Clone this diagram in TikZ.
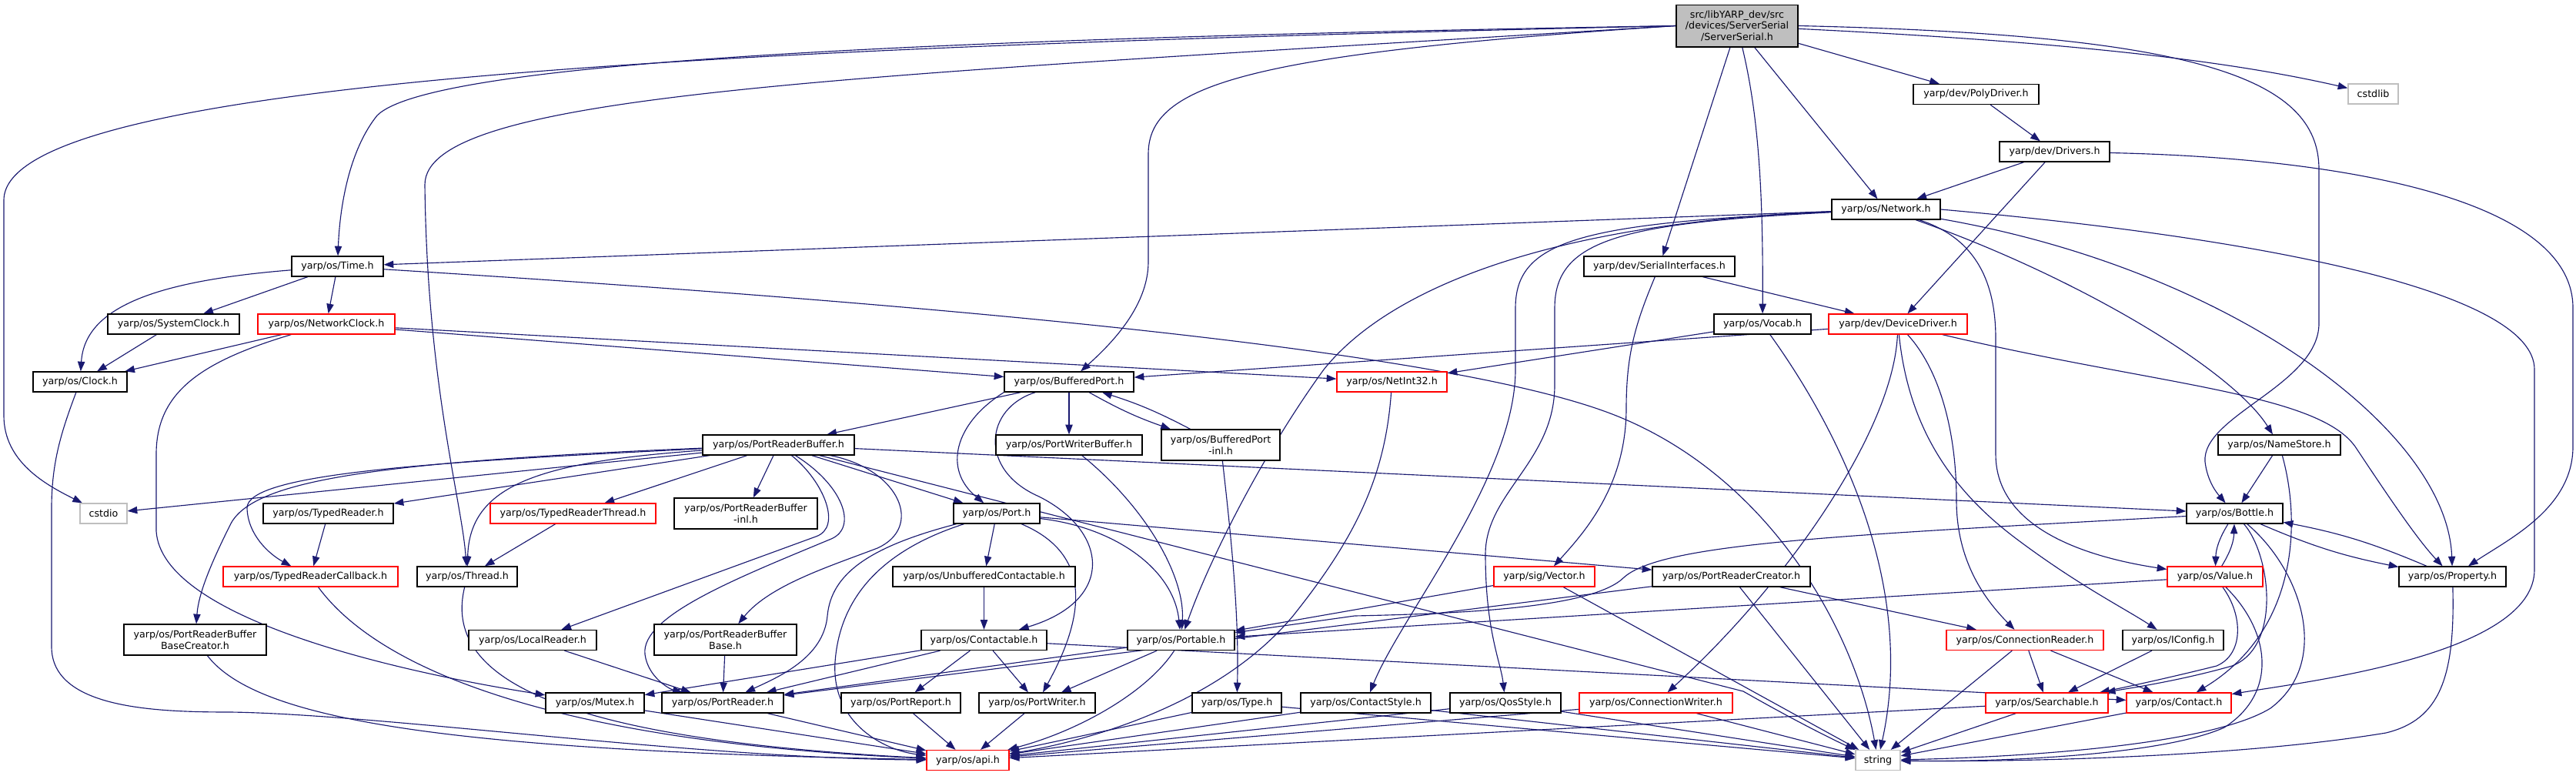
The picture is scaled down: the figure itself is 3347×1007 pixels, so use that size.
\documentclass[tikz,border=0pt]{standalone}
\usepackage{fontspec}
\setmainfont{DejaVu Sans}
\usetikzlibrary{arrows.meta}
\pgfdeclarelayer{background}
\pgfsetlayers{background,main}
\definecolor{edgeblue}{HTML}{191970}
\definecolor{graybox}{HTML}{BFBFBF}
\definecolor{redbox}{HTML}{FF0000}
\tikzset{
  nb/.style={rectangle, draw=black, line width=1pt, fill=white, minimum width=#1*0.75pt,
    minimum height=19.5pt, inner sep=0pt, align=center, font=\fontsize{9.5}{11}\selectfont},
  nr/.style={nb=#1, draw=redbox},
  ng/.style={nb=#1, draw=graybox},
  ed/.style={draw=edgeblue, line width=0.85pt, -{Triangle[length=9.5pt,width=7pt]}},
}
\begin{document}
\begin{tikzpicture}[x=0.75pt, y=-0.75pt]
\useasboundingbox (0,0) rectangle (3347,1007);
% nodes
\node[nb=158, minimum height=41pt, fill=graybox] (ss) at (2257,33.5) {src/libYARP\_dev/src\\/devices/ServerSerial\\/ServerSerial.h};
\node[ng=65] (cstdlib) at (3083.5,122) {cstdlib};
\node[nb=163] (poly) at (2567.5,122.5) {yarp/dev/PolyDriver.h};
\node[nb=143] (drivers) at (2669.5,197) {yarp/dev/Drivers.h};
\node[nb=141] (network) at (2450.5,272) {yarp/os/Network.h};
\node[nb=119] (time) at (438.5,346) {yarp/os/Time.h};
\node[nb=196] (serial) at (2156,346) {yarp/dev/SerialInterfaces.h};
\node[nb=171] (sysclock) at (225.5,421) {yarp/os/SystemClock.h};
\node[nr=178] (netclock) at (424,421) {yarp/os/NetworkClock.h};
\node[nb=126] (vocab) at (2290,421) {yarp/os/Vocab.h};
\node[nr=180] (devdrv) at (2466,421) {yarp/dev/DeviceDriver.h};
\node[nb=122] (clock) at (104,496) {yarp/os/Clock.h};
\node[nb=168] (bport) at (1389,496) {yarp/os/BufferedPort.h};
\node[nr=143] (netint) at (1808.5,496) {yarp/os/NetInt32.h};
\node[nb=197] (prb) at (1011.5,578) {yarp/os/PortReaderBuffer.h};
\node[nb=190] (pwb) at (1389,578) {yarp/os/PortWriterBuffer.h};
\node[nb=154, minimum height=30pt] (bpinl) at (1586,578) {yarp/os/BufferedPort\\-inl.h};
\node[nb=159] (namestore) at (2961.5,578) {yarp/os/NameStore.h};
\node[ng=61] (cstdio) at (134.5,667) {cstdio};
\node[nb=169] (treader) at (426.5,667) {yarp/os/TypedReader.h};
\node[nr=215] (trthread) at (744.5,667) {yarp/os/TypedReaderThread.h};
\node[nb=186, minimum height=30pt] (prbinl) at (969,667) {yarp/os/PortReaderBuffer\\-inl.h};
\node[nb=112] (port) at (1295,667) {yarp/os/Port.h};
\node[nb=125] (bottle) at (2903.5,667) {yarp/os/Bottle.h};
\node[nr=227] (trcb) at (403.5,749) {yarp/os/TypedReaderCallback.h};
\node[nb=130] (thread) at (607,749) {yarp/os/Thread.h};
\node[nb=237] (unbuf) at (1278.5,749) {yarp/os/UnbufferedContactable.h};
\node[nr=131] (vector) at (2006.5,749) {yarp/sig/Vector.h};
\node[nb=205] (prc) at (2249.5,749) {yarp/os/PortReaderCreator.h};
\node[nr=124] (value) at (2878,749) {yarp/os/Value.h};
\node[nb=139] (property) at (3186.5,749) {yarp/os/Property.h};
\node[nb=185, minimum height=30pt] (prbbc) at (253.5,831) {yarp/os/PortReaderBuffer\\BaseCreator.h};
\node[nb=166] (localreader) at (692,831.5) {yarp/os/LocalReader.h};
\node[nb=185, minimum height=30pt] (prbbase) at (942.5,831) {yarp/os/PortReaderBuffer\\Base.h};
\node[nb=163] (contactable) at (1278.5,831.5) {yarp/os/Contactable.h};
\node[nb=139] (portable) at (1534.5,831.5) {yarp/os/Portable.h};
\node[nr=204] (connreader) at (2631,831.5) {yarp/os/ConnectionReader.h};
\node[nb=131] (iconfig) at (2823.5,831.5) {yarp/os/IConfig.h};
\node[nb=128] (mutex) at (773,913) {yarp/os/Mutex.h};
\node[nb=158] (portreader) at (939,913) {yarp/os/PortReader.h};
\node[nb=155] (portreport) at (1170.5,913) {yarp/os/PortReport.h};
\node[nb=151] (portwriter) at (1347.5,913) {yarp/os/PortWriter.h};
\node[nb=116] (type) at (1607,913) {yarp/os/Type.h};
\node[nb=169] (contactstyle) at (1774.5,913) {yarp/os/ContactStyle.h};
\node[nb=144] (qosstyle) at (1956,913) {yarp/os/QosStyle.h};
\node[nr=199] (connwriter) at (2151.5,913) {yarp/os/ConnectionWriter.h};
\node[nr=159] (searchable) at (2659.5,913) {yarp/os/Searchable.h};
\node[nr=136] (contact) at (2831,913) {yarp/os/Contact.h};
\node[nr=107] (api) at (1257.5,987.5) {yarp/os/api.h};
\node[ng=58] (string) at (2440,987.5) {string};

\begin{pgfonlayer}{background}
% ServerSerial
\draw[ed] (ss.west) .. controls (1000,60) and (5,100) .. (5,260) -- (5,540) .. controls (5,600) and (60,630) .. (cstdio);
\draw[ed] (ss.west) .. controls (1200,50) and (560,80) .. (490,150) .. controls (450,200) and (441,280) .. (time);
\draw[ed] (ss.west) .. controls (1100,100) and (552,120) .. (552,240) .. controls (555,500) and (600,650) .. (thread);
\draw[ed] (ss.west) .. controls (1620,70) and (1492,110) .. (1492,200) -- (1492,340) .. controls (1492,400) and (1440,450) .. (bport);
\draw[ed] (ss) -- (network);
\draw[ed] (ss) -- (serial);
\draw[ed] (ss) .. controls (2285,150) and (2291,250) .. (vocab);
\draw[ed] (ss) -- (poly);
\draw[ed] (ss) .. controls (2700,55) and (2900,80) .. (cstdlib);
\draw[ed] (ss.east) .. controls (2850,45) and (3013,100) .. (3013,220) -- (3013,420) .. controls (3013,500) and (2860,540) .. (2865,600) .. controls (2868,625) and (2880,640) .. (bottle);
% drivers
\draw[ed] (poly) -- (drivers);
\draw[ed] (drivers) -- (network);
\draw[ed] (drivers) -- (devdrv);
\draw[ed] (drivers) .. controls (3050,205) and (3343,260) .. (3343,400) -- (3343,580) .. controls (3343,660) and (3260,700) .. (property);
% network
\draw[ed] (network) -- (time);
\draw[ed] (network) .. controls (2000,290) and (1800,380) .. (1720,480) .. controls (1640,590) and (1570,730) .. (portable);
\draw[ed] (network) .. controls (2060,290) and (1969,310) .. (1969,400) -- (1969,480) .. controls (1969,620) and (1820,800) .. (contactstyle);
\draw[ed] (network) .. controls (2110,290) and (2020,310) .. (2020,400) -- (2020,500) .. controls (2020,600) and (1930,640) .. (1930,720) .. controls (1930,820) and (1950,860) .. (qosstyle);
\draw[ed] (network) .. controls (2700,360) and (2900,480) .. (namestore);
\draw[ed] (network) .. controls (2900,350) and (3180,560) .. (property);
\draw[ed] (network.east) .. controls (2950,310) and (3293,380) .. (3293,480) -- (3293,740) .. controls (3293,850) and (3000,885) .. (contact);
\draw[ed] (network) .. controls (2570,310) and (2593,370) .. (2593,440) -- (2593,590) .. controls (2593,690) and (2720,725) .. (value);
% device driver
\draw[ed] (devdrv) -- (bport);
\draw[ed] (devdrv) .. controls (2460,560) and (2320,760) .. (connwriter);
\draw[ed] (devdrv) .. controls (2520,480) and (2542,560) .. (2542,650) .. controls (2542,730) and (2580,780) .. (connreader);
\draw[ed] (devdrv) .. controls (2480,560) and (2540,640) .. (2620,700) .. controls (2700,760) and (2760,790) .. (iconfig);
\draw[ed] (devdrv) .. controls (2800,500) and (3010,510) .. (3060,580) .. controls (3100,640) and (3140,700) .. (property);
% vocab, serial
\draw[ed] (vocab) -- (netint);
\draw[ed] (vocab) .. controls (2390,560) and (2490,760) .. (string);
\draw[ed] (serial) -- (devdrv);
\draw[ed] (serial) .. controls (2125,420) and (2113,460) .. (2113,530) .. controls (2113,630) and (2060,690) .. (vector);
% time
\draw[ed] (time) .. controls (200,365) and (110,400) .. (clock);
\draw[ed] (time) -- (sysclock);
\draw[ed] (time) -- (netclock);
\draw[ed] (time) .. controls (1300,400) and (1900,460) .. (2100,540) .. controls (2300,620) and (2410,820) .. (string);
\draw[ed] (sysclock) -- (clock);
\draw[ed] (netclock) -- (clock);
\draw[ed] (netclock) -- (netint);
\draw[ed] (netclock) -- (bport);
\draw[ed] (netclock) .. controls (260,470) and (203,510) .. (203,590) -- (203,690) .. controls (210,800) and (500,870) .. (mutex);
\draw[ed] (clock) .. controls (80,560) and (67,600) .. (67,660) -- (67,840) .. controls (67,920) and (200,925) .. (300,925) .. controls (500,928) and (900,985) .. (api);
% buffered port
\draw[ed] (bport) -- (prb);
\draw[ed] (bport) -- (pwb);
\draw[ed] (bport) to[bend right=5] (bpinl);
\draw[ed] (bpinl) to[bend right=5] (bport);
\draw[ed] (bport.south west) .. controls (1240,550) and (1225,610) .. (port);
\draw[ed] (bport) .. controls (1280,530) and (1270,610) .. (1350,645) .. controls (1440,690) and (1450,780) .. (contactable);
\draw[ed] (bpinl) .. controls (1600,700) and (1610,800) .. (type);
\draw[ed] (pwb) .. controls (1490,660) and (1540,750) .. (portable);
% port reader buffer
\draw[ed] (prb) -- (cstdio);
\draw[ed] (prb) -- (treader);
\draw[ed] (prb) .. controls (560,600) and (320,615) .. (321,660) .. controls (322,695) and (350,720) .. (trcb);
\draw[ed] (prb) -- (trthread);
\draw[ed] (prb) .. controls (700,600) and (610,630) .. (thread);
\draw[ed] (prb) .. controls (480,600) and (330,625) .. (300,680) .. controls (275,730) and (258,770) .. (prbbc);
\draw[ed] (prb) -- (prbinl);
\draw[ed] (prb) -- (port);
\draw[ed] (prb) .. controls (1070,625) and (1095,685) .. (1060,697) -- (localreader);
\draw[ed] (prb) .. controls (1095,630) and (1115,685) .. (1080,700) .. controls (960,750) and (832,800) .. (838,850) .. controls (842,880) and (870,895) .. (portreader);
\draw[ed] (prb) .. controls (1170,610) and (1200,685) .. (1140,712) .. controls (1080,735) and (1000,760) .. (prbbase);
\draw[ed] (prb) -- (2265,898) .. controls (2330,935) and (2380,960) .. (string);
\draw[ed] (prb) -- (bottle);
\draw[ed] (treader) -- (trcb);
\draw[ed] (trthread) -- (thread);
\draw[ed] (trcb) .. controls (500,880) and (750,965) .. (api);
\draw[ed] (thread) .. controls (575,880) and (720,960) .. (api);
\draw[ed] (prbbc) .. controls (330,930) and (550,975) .. (api);
\draw[ed] (localreader) -- (portreader);
\draw[ed] (mutex) -- (api);
% port
\draw[ed] (port) -- (unbuf);
\draw[ed] (port) .. controls (1450,685) and (1525,740) .. (portable);
\draw[ed] (port) .. controls (1420,720) and (1410,800) .. (portwriter);
\draw[ed] (port) .. controls (1130,710) and (1080,745) .. (1075,800) .. controls (1070,855) and (1010,880) .. (portreader);
\draw[ed] (port) .. controls (1130,720) and (1090,790) .. (1085,860) .. controls (1080,940) and (1150,975) .. (api);
\draw[ed] (port) -- (prc);
\draw[ed] (unbuf) -- (contactable);
\draw[ed] (contactable) -- (mutex);
\draw[ed] (contactable) -- (portreader);
\draw[ed] (contactable) -- (portreport);
\draw[ed] (contactable) -- (portwriter);
\draw[ed] (contactable) -- (contact);
\draw[ed] (portable) -- (portreader);
\draw[ed] (portable) -- (portwriter);
\draw[ed] (portable) .. controls (1490,900) and (1400,950) .. (api);
\draw[ed] (prbbase) -- (portreader);
\draw[ed] (portreader) -- (api);
\draw[ed] (portreport) -- (api);
\draw[ed] (portwriter) -- (api);
\draw[ed] (type) -- (api);
\draw[ed] (type) -- (string);
\draw[ed] (netint) .. controls (1800,620) and (1760,700) .. (1680,800) .. controls (1580,920) and (1400,965) .. (api);
\draw[ed] (vector) -- (portable);
\draw[ed] (vector) -- (string);
\draw[ed] (prc) -- (portreader);
\draw[ed] (prc) -- (connreader);
\draw[ed] (prc) -- (string);
\draw[ed] (contactstyle) -- (api);
\draw[ed] (contactstyle) -- (string);
\draw[ed] (qosstyle) -- (api);
\draw[ed] (qosstyle) -- (string);
\draw[ed] (connwriter) -- (api);
\draw[ed] (connwriter) -- (string);
\draw[ed] (searchable) -- (api);
\draw[ed] (searchable) -- (string);
\draw[ed] (contact) -- (string);
\draw[ed] (connreader) -- (searchable);
\draw[ed] (connreader) -- (contact);
\draw[ed] (connreader) -- (string);
\draw[ed] (iconfig) -- (searchable);
% name store, bottle, value, property
\draw[ed] (namestore) -- (bottle);
\draw[ed] (namestore) .. controls (2990,680) and (2985,820) .. (contact);
\draw[ed] (bottle) to[bend right=15] (value);
\draw[ed] (value) to[bend right=15] (bottle);
\draw[ed] (bottle) to[bend right=6] (property);
\draw[ed] (property) to[bend right=6] (bottle);
\draw[ed] (bottle) .. controls (2950,720) and (2965,840) .. (2900,865) .. controls (2830,885) and (2760,895) .. (searchable);
\draw[ed] (bottle) .. controls (2990,740) and (3030,860) .. (2950,920) .. controls (2860,975) and (2560,985) .. (string);
\draw[ed] (bottle) .. controls (2400,695) and (2160,705) .. (2110,750) .. controls (2070,790) and (1900,797) .. (1760,800) -- (portable);
\draw[ed] (value) -- (portable);
\draw[ed] (value) .. controls (2915,800) and (2915,850) .. (2880,865) .. controls (2820,880) and (2760,893) .. (searchable);
\draw[ed] (value) .. controls (2950,820) and (2960,900) .. (2890,945) .. controls (2800,985) and (2560,990) .. (string);
\draw[ed] (property) .. controls (3190,880) and (3170,935) .. (3100,952) .. controls (2900,985) and (2600,990) .. (string);
\end{pgfonlayer}
\end{tikzpicture}
\end{document}
